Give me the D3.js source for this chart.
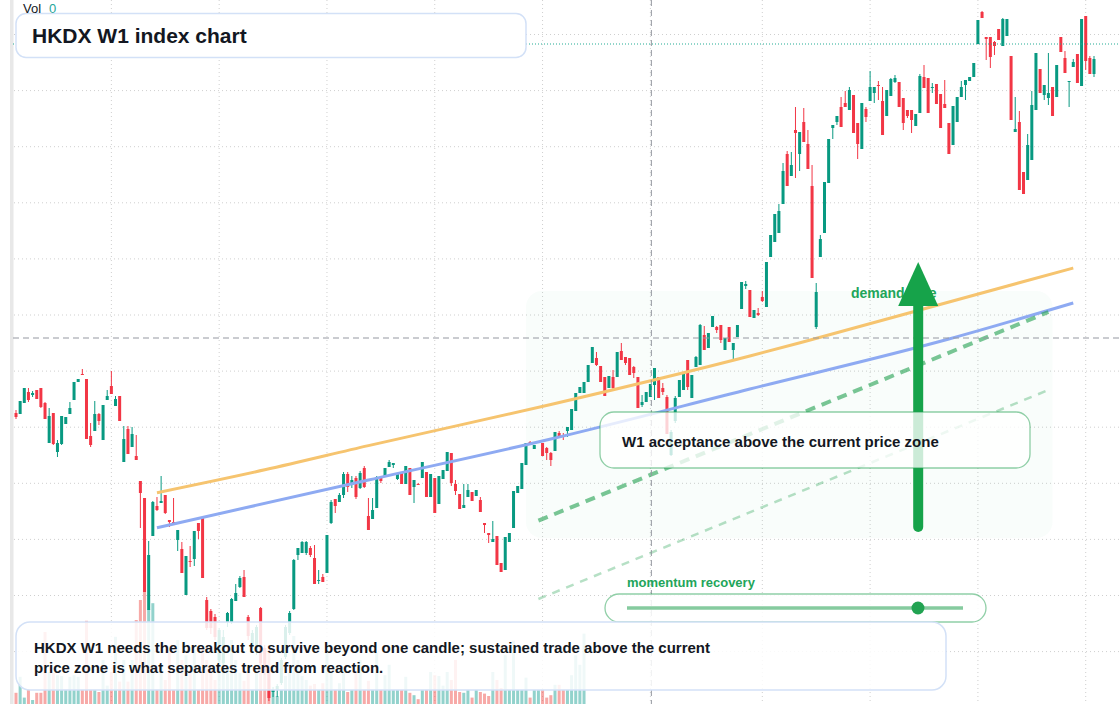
<!DOCTYPE html>
<html>
<head>
<meta charset="utf-8">
<script src="https://cdn.jsdelivr.net/npm/d3@7"></script>
<style>
  body { margin: 0; background: #fff; }
  svg { display: block; font-family: "Liberation Sans", Arial, sans-serif; }
</style>
</head>
<body>
<svg id="chart" width="1120" height="704"></svg>
<script>
const width = 1120;
const height = 704;
const colors = {
    up: '#089981',
    down: '#f23645',
    upVol: 'rgba(38,166,154,0.5)',
    downVol: 'rgba(239,83,80,0.5)',
    grid: '#cfcfcf',
    green: '#16a34a',
    text: '#131722'
};

// weekly candles: [open, high, low, close]
const candles = [
    [22215,22245,22155,22175],[22205,22335,22205,22335],[22315,22465,22315,22465],[22425,22465,22325,22345],[22395,22435,22375,22415],[22445,22445,22355,22355],
    [22465,22465,22265,22275],[22315,22325,22155,22155],[21915,22265,21915,22185],[22215,22215,21895,21905],[21825,21945,21775,21915],[21905,22185,21895,22185],
    [22105,22175,22105,22175],[22205,22325,22205,22265],[22345,22525,22345,22525],[22525,22555,22525,22555],[22605,22655,22595,22595],[22555,22555,21955,21955],
    [21985,22115,21875,21895],[22035,22335,22035,22205],[22205,22215,22095,22135],[21945,22295,21945,22295],[22345,22445,22345,22385],[22485,22635,22405,22405],
    [22285,22385,22285,22355],[22385,22385,22135,22135],[21725,22085,21725,21955],[22055,22085,21805,21805],[21875,22075,21875,22005],[21785,21995,21745,21745],
    [21535,21535,21065,21415],[21365,21365,20425,20425],[20245,20935,20245,20795],[20985,21335,20985,21325],[21285,21375,21235,21245],[21315,21585,21315,21335],
    [21395,21395,21205,21215],[21145,21145,21075,21125],[21125,21365,21115,21115],[20945,21045,20835,21045],[20855,20925,20615,20615],[20395,20785,20395,20785],
    [20735,20885,20675,20725],[20755,21035,20685,21035],[21115,21115,20955,21035],[21165,21175,20565,20565],[20345,20375,20045,20065],[20235,20255,20005,20065],
    [20175,20205,19945,19975],[19745,20065,19725,20045],[19715,20045,19695,19975],[20125,20225,20075,20215],[20125,20365,20105,20355],[20335,20505,20335,20415],
    [20475,20585,20465,20565],[20575,20645,20375,20375],[20175,20195,19945,19985],[19895,20045,19865,20015],[19825,20095,19795,20075],[20265,20275,19695,19715],
    [19865,19895,19595,19625],[19645,19665,19335,19365],[19425,19475,19375,19445],[19445,19505,19375,19485],[19515,19765,19495,19745],[19775,20095,19755,20075],
    [20015,20235,19995,20215],[20255,20755,20245,20745],[20795,20865,20745,20865],[20815,20935,20815,20925],[20815,20935,20795,20925],[20865,20885,20775,20795],
    [20765,20895,20505,20505],[20535,20645,20505,20545],[20575,20605,20525,20525],[20615,20995,20615,20995],[21115,21345,21105,21325],[21355,21355,21215,21285],
    [21325,21415,21325,21395],[21395,21625,21365,21605],[21605,21625,21425,21475],[21495,21585,21465,21545],[21565,21585,21355,21375],[21465,21635,21455,21615],
    [21665,21685,21465,21475],[21185,21365,21045,21045],[21155,21365,21155,21245],[21265,21585,21265,21575],[21565,21575,21515,21535],[21575,21665,21575,21665],
    [21675,21745,21675,21725],[21695,21715,21665,21715],[21555,21615,21545,21615],[21615,21615,21505,21505],[21505,21685,21505,21685],[21665,21665,21395,21395],
    [21475,21545,21315,21545],[21505,21515,21495,21495],[21565,21725,21565,21725],[21625,21625,21375,21375],[21375,21605,21375,21605],[21565,21565,21215,21215],
    [21305,21585,21305,21585],[21555,21645,21555,21645],[21635,21825,21635,21825],[21815,21815,21485,21515],[21505,21545,21395,21435],[21405,21405,21255,21255],
    [21265,21505,21265,21295],[21375,21505,21375,21445],[21425,21425,21335,21335],[21385,21445,21385,21445],[21345,21375,21225,21225],[21115,21115,21015,21095],
    [21015,21015,20915,20995],[20925,21135,20925,20955],[20985,20985,20695,20695],[20715,20715,20625,20625],[20645,20975,20645,20975],[20925,21015,20925,21015],
    [21065,21435,21065,21435],[21415,21485,21415,21485],[21455,21715,21455,21715],[21695,21915,21695,21915],[21925,21935,21905,21915],[21855,21895,21855,21895],
    [21915,21935,21915,21925],[21915,21915,21785,21785],[21865,21875,21745,21815],[21815,21825,21685,21745],[21835,22025,21835,22025],[22015,22035,21975,21975],
    [21985,22015,21945,21975],[22035,22075,21975,22075],[22045,22255,22045,22255],[22235,22415,22235,22415],[22415,22475,22415,22475],[22415,22525,22415,22525],
    [22525,22695,22525,22695],[22715,22875,22715,22875],[22765,22825,22685,22695],[22685,22685,22525,22525],[22575,22575,22385,22385],[22465,22585,22465,22585],
    [22575,22645,22445,22465],[22575,22825,22575,22825],[22835,22915,22745,22745],[22775,22775,22695,22715],[22765,22765,22595,22595],[22675,22685,22565,22615],
    [22575,22575,22265,22265],[22295,22395,22275,22325],[22325,22425,22325,22425],[22375,22505,22375,22505],[22495,22665,22345,22665],[22575,22575,22365,22365],
    [22465,22515,22395,22425],[22375,22395,22005,22005],[21795,22045,21785,22025],[22135,22385,22115,22365],[22375,22545,22375,22545],[22445,22615,22445,22615],
    [22745,22745,22445,22475],[22365,22595,22365,22595],[22675,22785,22675,22775],[22695,23105,22695,23095],[22995,23085,22845,22845],[22865,23015,22865,23015],
    [23075,23185,23075,23185],[23075,23085,23015,23045],[23095,23095,22915,22945],[22845,22965,22845,22965],[23075,23075,22925,22925],[22845,22915,22745,22915],
    [22975,23095,22975,23095],[23255,23525,23255,23525],[23485,23535,23455,23505],[23445,23445,23175,23175],[23165,23245,23165,23245],[23215,23265,23185,23195],
    [23375,23435,23325,23335],[23275,23725,23275,23725],[23775,23995,23775,23995],[23925,24205,23925,24205],[24015,24305,24015,24235],[24305,24715,24305,24635],
    [24805,24835,24485,24485],[24585,24825,24585,24695],[25045,25275,24565,25015],[24805,25025,24635,25025],[25125,25265,24925,24925],[24905,25045,24655,24655],
    [24485,24695,23565,23565],[23075,23515,23055,23425],[23775,23995,23775,23955],[24015,24525,24015,24525],[24515,24955,24515,24955],[25065,25095,24955,25095],
    [25125,25185,25095,25185],[25275,25375,25075,25075],[25315,25435,25275,25275],[25245,25475,25245,25445],[25395,25395,25015,25015],[25115,25115,24755,24905],
    [24855,25315,24855,25315],[25255,25275,25125,25175],[25335,25635,25335,25475],[25415,25475,25315,25475],[25495,25535,25345,25485],[25335,25475,24995,24995],
    [25185,25445,25185,25445],[25385,25565,25385,25555],[25525,25595,25515,25565],[25525,25525,25275,25275],[25365,25365,25045,25115],[25245,25245,25165,25185],
    [25245,25245,25015,25145],[25085,25205,25085,25205],[25215,25605,25215,25585],[25575,25695,25465,25465],[25565,25565,25215,25215],[25465,25515,25415,25475],
    [25505,25505,25305,25305],[25405,25405,25065,25065],[25305,25545,25265,25265],[25115,25115,24805,24805],[24895,25285,24895,25285],[25125,25375,25125,25375],
    [25375,25535,25375,25475],[25495,25545,25345,25545],[25535,25575,25535,25575],[25575,25715,25575,25715],[25905,26145,25905,26145],[26225,26235,26165,26165],
    [25975,25975,25745,25955],[25975,25975,25665,25775],[25925,25935,25795,25885],[26055,26055,25945,25945],[25885,26165,25885,26155],[25985,26155,25985,26155],
    [25785,25785,25145,25145],[25025,25375,25025,25055],[25125,25235,24445,24445],[24625,24625,24405,24405],[24545,25005,24545,24895],[24745,25435,24745,25295],
    [25245,25815,25245,25815],[25655,25655,25415,25415],[25395,25495,25345,25495],[25365,25815,25295,25415],[25475,25475,25185,25185],[25375,25695,25375,25695],
    [25975,25975,25825,25825],[25765,25835,25615,25615],[25525,25535,25275,25535],[25675,25755,25675,25725],[25805,25805,25515,25515],[25485,26155,25485,26155],
    [26185,26185,25645,25735],[25765,25785,25605,25605],[25605,25785,25575,25755]
];

// volume only reported for the first weeks; later weeks read 0
const volumes = [
    14,34,8,18,5,14,14,90,40,39,36,35,18,34,36,34,18,104,18,18,15,55,23,40,84,28,55,28,55,105,
    130,161,118,126,18,49,30,68,18,80,55,61,43,68,18,70,55,49,30,80,68,45,80,55,39,29,43,18,40,55,
    68,73,18,10,18,35,40,85,55,35,30,23,25,18,26,68,40,18,26,40,15,18,40,55,18,29,18,64,18,36,
    49,18,18,18,34,14,11,6,18,18,40,36,35,23,40,30,55,15,14,18,8,18,15,13,10,40,30,20,61,18,
    79,18,18,33,8,18,18,18,8,11,24,24,18,18,36,61,49,88
];

const priceGrid = [26000, 25439, 24878, 24317, 23756, 23195, 22634, 22073, 21512, 20951, 20390, 19829];
const weekGrid = [23, 49, 75, 101, 127, 153, 180, 206, 232, 258];

// [week, price]
const orangeLine = [[34, 21418], [60, 21647], [85, 21889], [129, 22300], [177, 22785], [192, 22950], [255, 23665]];
const blueLine = [[34, 21068], [85, 21545], [129, 21955], [177, 22455], [225, 22955], [255, 23315]];
const trendMain = [[126, 21138], [249, 23225]];
const trendLow = [[126, 20355], [249, 22445]];
const demandZone = [[123, 23435], [250, 20965]];
const arrowWeek = 217.6;
const arrowFrom = 21075;
const arrowTo = 23725;
const crossWeek = 153;
const crossPrice = 22965;
const lastPrice = 25905;
const momentum = 0.866;

const svg = d3.select('#chart');

const x = d3.scaleLinear().domain([0, candles.length - 1]).range([16, 1094]);
const y = d3.scaleLinear().domain([26345, 19305]).range([0, height]);
const v = d3.scaleLinear().domain([0, 200]).range([height, 544]);

svg.append('rect').attr('width', width).attr('height', height).attr('fill', '#fff');
svg.append('rect').attr('x', 10).attr('width', 3.5).attr('height', height).attr('fill', '#e8e8e8');

// grid
svg.append('g').selectAll('line')
    .data(priceGrid).join('line')
    .attr('x1', 14).attr('x2', width)
    .attr('y1', d => y(d)).attr('y2', d => y(d))
    .attr('stroke', colors.grid).attr('stroke-dasharray', '1,3');

svg.append('g').selectAll('line')
    .data(weekGrid).join('line')
    .attr('x1', d => x(d)).attr('x2', d => x(d))
    .attr('y1', 0).attr('y2', height)
    .attr('stroke', colors.grid).attr('stroke-dasharray', '1,3');

// demand zone shading
svg.append('rect')
    .attr('x', x(demandZone[0][0])).attr('y', y(demandZone[0][1]))
    .attr('width', x(demandZone[1][0]) - x(demandZone[0][0]))
    .attr('height', y(demandZone[1][1]) - y(demandZone[0][1]))
    .attr('rx', 16)
    .attr('fill', 'rgba(34,197,94,0.028)');

// volume
svg.append('g').selectAll('rect')
    .data(volumes).join('rect')
    .attr('x', (d, i) => x(i) - 1.5)
    .attr('width', 3)
    .attr('y', d => v(d))
    .attr('height', d => height - v(d))
    .attr('fill', (d, i) => candles[i][3] >= candles[i][0] ? colors.upVol : colors.downVol);

// candles
const candle = svg.append('g').selectAll('g')
    .data(candles).join('g')
    .attr('fill', d => d[3] >= d[0] ? colors.up : colors.down)
    .attr('stroke', d => d[3] >= d[0] ? colors.up : colors.down);

candle.append('line')
    .attr('x1', (d, i) => x(i)).attr('x2', (d, i) => x(i))
    .attr('y1', d => y(d[1])).attr('y2', d => y(d[2]))
    .attr('stroke-width', 1);

candle.append('rect')
    .attr('stroke', 'none')
    .attr('x', (d, i) => x(i) - 1.5)
    .attr('width', 3)
    .attr('y', d => y(Math.max(d[0], d[3])))
    .attr('height', d => Math.max(1, Math.abs(y(d[0]) - y(d[3]))));

// channel lines
const curve = d3.line().x(d => x(d[0])).y(d => y(d[1])).curve(d3.curveMonotoneX);

svg.append('path').attr('d', curve(orangeLine))
    .attr('fill', 'none').attr('stroke', '#f6c46f').attr('stroke-width', 3);
svg.append('path').attr('d', curve(blueLine))
    .attr('fill', 'none').attr('stroke', '#8eaaf2').attr('stroke-width', 3);

svg.append('path').attr('d', curve(trendMain))
    .attr('fill', 'none').attr('stroke', 'rgba(34,160,80,0.6)')
    .attr('stroke-width', 4).attr('stroke-dasharray', '10,7');
svg.append('path').attr('d', curve(trendLow))
    .attr('fill', 'none').attr('stroke', 'rgba(34,160,80,0.33)')
    .attr('stroke-width', 2.5).attr('stroke-dasharray', '8,7');

// crosshair
svg.append('line')
    .attr('x1', 13).attr('x2', width)
    .attr('y1', y(crossPrice)).attr('y2', y(crossPrice))
    .attr('stroke', '#9598a1').attr('stroke-dasharray', '6,4');
svg.append('line')
    .attr('x1', x(crossWeek) + 1).attr('x2', x(crossWeek) + 1)
    .attr('y1', 0).attr('y2', height)
    .attr('stroke', '#9598a1').attr('stroke-dasharray', '6,4');

// last price
svg.append('line')
    .attr('x1', 13).attr('x2', width)
    .attr('y1', y(lastPrice)).attr('y2', y(lastPrice))
    .attr('stroke', '#22ab94').attr('stroke-dasharray', '1,2');

// demand side label + arrow
svg.append('text')
    .attr('x', 851).attr('y', 298)
    .attr('font-size', 14).attr('font-weight', 700)
    .attr('fill', '#22a55a')
    .text('demand side');

const ax = x(arrowWeek);
const headY = y(arrowTo);
svg.append('line')
    .attr('x1', ax).attr('x2', ax)
    .attr('y1', y(arrowFrom)).attr('y2', headY + 40)
    .attr('stroke', colors.green).attr('stroke-width', 10).attr('stroke-linecap', 'round');
svg.append('path')
    .attr('d', `M${ax},${headY} L${ax + 20},${headY + 44} L${ax - 20},${headY + 44} Z`)
    .attr('fill', colors.green);

// acceptance box
svg.append('rect')
    .attr('x', 600).attr('y', 412).attr('width', 430).attr('height', 56).attr('rx', 14)
    .attr('fill', 'rgba(255,255,255,0.78)')
    .attr('stroke', 'rgba(34,160,80,0.5)').attr('stroke-width', 1.3);
svg.append('text')
    .attr('x', 622).attr('y', 447)
    .attr('font-size', 15).attr('font-weight', 700).attr('fill', colors.text)
    .text('W1 acceptance above the current price zone');

// momentum slider
const slider = d3.scaleLinear().domain([0, 1]).range([627, 963]);
svg.append('text')
    .attr('x', 627).attr('y', 587)
    .attr('font-size', 13).attr('font-weight', 700)
    .attr('fill', '#22a55a')
    .text('momentum recovery');
svg.append('rect')
    .attr('x', 605).attr('y', 594).attr('width', 381).attr('height', 28).attr('rx', 14)
    .attr('fill', 'rgba(255,255,255,0.85)')
    .attr('stroke', 'rgba(34,160,80,0.5)').attr('stroke-width', 1.3);
svg.append('line')
    .attr('x1', slider(0)).attr('x2', slider(1)).attr('y1', 608).attr('y2', 608)
    .attr('stroke', 'rgba(34,160,80,0.55)').attr('stroke-width', 3.5);
svg.append('circle')
    .attr('cx', slider(momentum)).attr('cy', 608).attr('r', 6.5)
    .attr('fill', '#22a352');

// bottom note
svg.append('rect')
    .attr('x', 16).attr('y', 622).attr('width', 930).attr('height', 68).attr('rx', 14)
    .attr('fill', 'rgba(255,255,255,0.85)')
    .attr('stroke', '#d3e1f7').attr('stroke-width', 1.5);
const note = svg.append('text')
    .attr('font-size', 15).attr('font-weight', 700).attr('fill', colors.text);
note.append('tspan').attr('x', 34).attr('y', 653)
    .text('HKDX W1 needs the breakout to survive beyond one candle; sustained trade above the current');
note.append('tspan').attr('x', 34).attr('y', 673)
    .text('price zone is what separates trend from reaction.');

// title
svg.append('rect')
    .attr('x', 16).attr('y', 13.5).attr('width', 510).attr('height', 44).attr('rx', 10)
    .attr('fill', '#fff')
    .attr('stroke', '#d3e1f7').attr('stroke-width', 1.5);
svg.append('text')
    .attr('x', 32).attr('y', 43)
    .attr('font-size', 21).attr('font-weight', 700).attr('fill', colors.text)
    .text('HKDX W1 index chart');

// legend
const legend = svg.append('text').attr('x', 23).attr('y', 13).attr('font-size', 13);
legend.append('tspan').attr('fill', '#131722').text('Vol');
legend.append('tspan').attr('dx', 8).attr('fill', '#26a69a').text(volumes[crossWeek] ?? 0);
</script>
</body>
</html>
